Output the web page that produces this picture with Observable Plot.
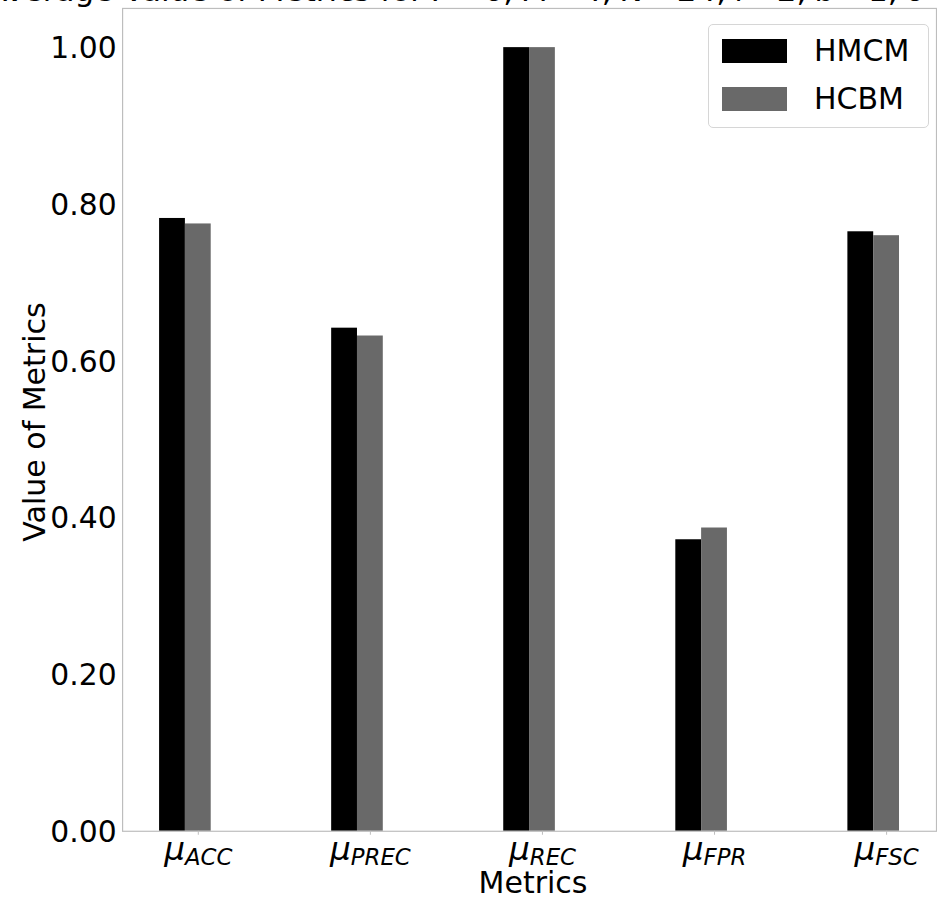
<!DOCTYPE html>
<html>
<head>
<meta charset="utf-8">
<script src="https://cdn.jsdelivr.net/npm/d3@7"></script>
<script src="https://cdn.jsdelivr.net/npm/@observablehq/plot@0.6"></script>
<style>
  html, body { margin: 0; padding: 0; background: #fff; overflow: hidden; }
  #wrap { position: relative; width: 937px; height: 900px; overflow: hidden; font-family: "DejaVu Sans", sans-serif; color: #000; }
  #title { position: absolute; left: -14px; top: -25px; text-align: left; font-size: 31px; line-height: 31px; white-space: nowrap; }
  #ylabel { position: absolute; left: 35px; top: 422px; transform: translate(-50%, -50%) rotate(-90deg); font-size: 30px; line-height: 34px; white-space: nowrap; }
  #xlabel { position: absolute; left: 533px; top: 866px; transform: translateX(-50%); font-size: 30px; line-height: 34px; white-space: nowrap; }
  #legend { position: absolute; left: 708px; top: 24px; width: 219px; height: 102px; border: 1px solid #d6d6d6; border-radius: 5px; background: rgba(255,255,255,0.8); }
  .lg-row { position: absolute; left: 0; height: 24px; }
  .lg-sw { position: absolute; left: 13px; top: 0; width: 65px; height: 24px; }
  .lg-tx { position: absolute; left: 105px; top: -6px; font-size: 30px; line-height: 36px; white-space: nowrap; }
</style>
</head>
<body>
<div id="wrap">
  <div id="chart"></div>
  <div id="title">Average Value of Metrics for <i>P</i>&#8202;=&#8202;6, <i>M</i>&#8202;=&#8202;4, <i>N</i>&#8202;=&#8202;24, <i>l</i>&#8202;=&#8202;2, <i>b</i>&#8202;=&#8202;1, <i>δ</i>&#8202;=&#8202;0.05</div>
  <div id="ylabel"></div>
  <div id="xlabel"></div>
  <div id="legend"></div>
</div>
<script>
// ---- data ----
const metrics = ["ACC", "PREC", "REC", "FPR", "FSC"];
const series = ["HMCM", "HCBM"];
const colors = ["#000000", "#696969"];
const hmcm = [0.782, 0.642, 1.000, 0.372, 0.765];
const hcbm = [0.775, 0.632, 1.000, 0.387, 0.760];
const yTicks = [0, 0.2, 0.4, 0.6, 0.8, 1.0];
const xLabel = "Metrics";
const yLabel = "Value of Metrics";

const barW = 0.15; // bar width in category units
const rows = [];
metrics.forEach((m, i) => {
  rows.push({metric: m, i, series: series[0], value: hmcm[i], x1: i - 1.5 * barW, x2: i - 0.5 * barW});
  rows.push({metric: m, i, series: series[1], value: hcbm[i], x1: i - 0.5 * barW, x2: i + 0.5 * barW});
});

const chart = Plot.plot({
  width: 944,
  height: 900,
  marginLeft: 123,
  marginRight: 1,
  marginTop: 8,
  marginBottom: 63,
  style: {fontFamily: "DejaVu Sans, sans-serif", fontSize: "30px", color: "#000", background: "transparent"},
  x: {domain: [-0.44, 4.29], label: null},
  y: {domain: [0, 1.05], label: null},
  color: {domain: series, range: colors},
  marks: [
    Plot.rectY(rows, {x1: "x1", x2: "x2", y1: 0, y2: "value", fill: "series"}),
    Plot.frame({stroke: "#bdbdbd", strokeWidth: 1.2}),
    Plot.axisY({ticks: yTicks, tickFormat: d3.format(".2f"), tickSize: 0, tickPadding: 6, label: null, fontSize: 30, dy: 1}),
    Plot.axisX({ticks: d3.range(metrics.length), tickFormat: i => metrics[i], tickSize: 4, tickPadding: 2, stroke: "#bdbdbd", label: null, fontSize: 33})
  ]
});
document.getElementById("chart").appendChild(chart);

// math-style tick labels: italic μ with italic subscript
d3.select(chart).selectAll("g[aria-label='x-axis tick label'] text").each(function() {
  const name = this.textContent;
  const t = d3.select(this);
  t.text(null);
  t.append("tspan").attr("font-style", "italic").text("μ");
  t.append("tspan").attr("font-style", "italic").attr("font-size", "23px").attr("dy", "5").text(name);
});

document.getElementById("xlabel").textContent = xLabel;
document.getElementById("ylabel").textContent = yLabel;

// legend
const lg = d3.select("#legend");
series.forEach((s, k) => {
  const row = lg.append("div").attr("class", "lg-row").style("top", (14 + k * 48) + "px");
  row.append("div").attr("class", "lg-sw").style("background", colors[k]);
  row.append("div").attr("class", "lg-tx").text(s);
});
</script>
</body>
</html>
